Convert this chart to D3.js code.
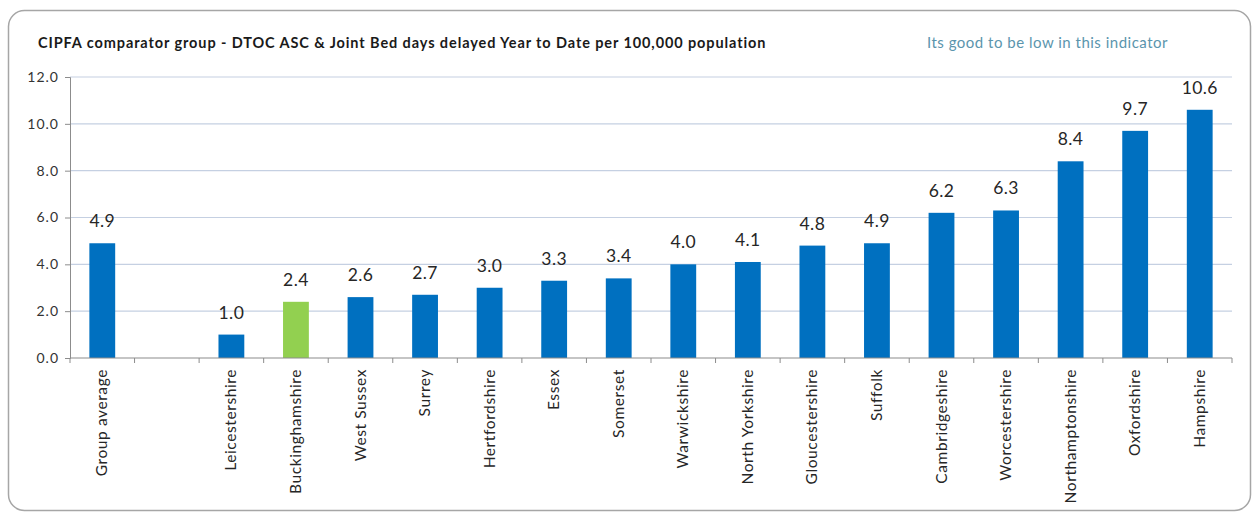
<!DOCTYPE html>
<html>
<head>
<meta charset="utf-8">
<script src="https://cdn.jsdelivr.net/npm/d3@7"></script>
<style>
  body { margin: 0; background: #fff; }
  svg { display: block; }
</style>
</head>
<body>
<div id="chart"></div>
<script>
// data
const categories = ['Group average', '', 'Leicestershire', 'Buckinghamshire', 'West Sussex', 'Surrey',
  'Hertfordshire', 'Essex', 'Somerset', 'Warwickshire', 'North Yorkshire', 'Gloucestershire',
  'Suffolk', 'Cambridgeshire', 'Worcestershire', 'Northamptonshire', 'Oxfordshire', 'Hampshire'];
const values = [4.9, null, 1.0, 2.4, 2.6, 2.7, 3.0, 3.3, 3.4, 4.0, 4.1, 4.8, 4.9, 6.2, 6.3, 8.4, 9.7, 10.6];
const highlight = 'Buckinghamshire';
const yTicks = [0, 2, 4, 6, 8, 10, 12];

const W = 1253, H = 514;
const margin = {left: 70, right: 21, top: 77, bottom: 156};
const font = "Lato, 'Open Sans', sans-serif";

const svg = d3.select('#chart').append('svg')
  .attr('width', W)
  .attr('height', H);

// outer rounded frame
svg.append('rect')
  .attr('x', 8.5).attr('y', 10.5)
  .attr('width', W - 11).attr('height', H - 14)
  .attr('rx', 16)
  .attr('fill', '#fff')
  .attr('stroke', '#a6a6a6')
  .attr('stroke-width', 1.5);

svg.append('text')
  .attr('x', 38).attr('y', 48)
  .attr('font-family', font)
  .attr('font-size', 14.5)
  .attr('font-weight', 700)
  .attr('letter-spacing', 0.9)
  .attr('fill', '#1a1a1a')
  .text('CIPFA comparator group - DTOC ASC & Joint Bed days delayed Year to Date per 100,000 population');

svg.append('text')
  .attr('x', 1168).attr('y', 48)
  .attr('text-anchor', 'end')
  .attr('font-family', font)
  .attr('font-size', 15)
  .attr('letter-spacing', 0.5)
  .attr('fill', '#5b95ad')
  .text('Its good to be low in this indicator');

const x = d3.scaleBand()
  .domain(d3.range(categories.length))
  .range([margin.left, W - margin.right])
  .paddingInner(0.6)
  .paddingOuter(0.3);

const y = d3.scaleLinear()
  .domain([0, 12])
  .range([H - margin.bottom, margin.top]);

const g = svg.append('g');

// gridlines
g.selectAll('.grid')
  .data(yTicks.slice(1))
  .enter()
  .append('line')
  .attr('class', 'grid')
  .attr('x1', margin.left).attr('x2', W - margin.right)
  .attr('y1', d => y(d)).attr('y2', d => y(d))
  .attr('stroke', '#c5d0e2')
  .attr('stroke-width', 1.2);

const barData = values.map((v, i) => ({v, i})).filter(d => d.v != null);

// bars
g.selectAll('.bar')
  .data(barData)
  .enter()
  .append('rect')
  .attr('class', 'bar')
  .attr('x', d => x(d.i))
  .attr('width', x.bandwidth())
  .attr('y', d => y(d.v))
  .attr('height', d => y(0) - y(d.v))
  .attr('fill', d => categories[d.i] === highlight ? '#92d050' : '#0070c0');

// value labels
g.selectAll('.val')
  .data(barData)
  .enter()
  .append('text')
  .attr('class', 'val')
  .attr('x', d => x(d.i) + x.bandwidth() / 2)
  .attr('y', d => y(d.v) - 16)
  .attr('text-anchor', 'middle')
  .attr('font-family', font)
  .attr('font-size', 17.5)
  .attr('letter-spacing', 0.4)
  .attr('fill', '#262626')
  .text(d => d.v.toFixed(1));

// y axis
const yAxis = d3.axisLeft(y)
  .tickValues(yTicks)
  .tickSize(5)
  .tickFormat(d => d.toFixed(1));

const gY = svg.append('g')
  .attr('transform', 'translate(' + margin.left + ',0)')
  .call(yAxis);
gY.select('.domain').attr('stroke', '#8c8c8c');
gY.selectAll('.tick line').attr('stroke', '#8c8c8c');
gY.selectAll('.tick text')
  .attr('font-family', font)
  .attr('font-size', 14)
  .attr('letter-spacing', 1)
  .attr('fill', '#333')
  .attr('dx', -3);

// x axis: ticks sit between the categories
const step = x.step();
const xEdges = d3.range(categories.length + 1).map(i => margin.left + i * step);

svg.append('line')
  .attr('x1', margin.left).attr('x2', W - margin.right)
  .attr('y1', y(0)).attr('y2', y(0))
  .attr('stroke', '#8c8c8c')
  .attr('stroke-width', 1.2);

svg.selectAll('.xtick')
  .data(xEdges)
  .enter()
  .append('line')
  .attr('class', 'xtick')
  .attr('x1', d => d).attr('x2', d => d)
  .attr('y1', y(0)).attr('y2', y(0) + 5)
  .attr('stroke', '#8c8c8c');

svg.selectAll('.xlabel')
  .data(categories)
  .enter()
  .append('text')
  .attr('class', 'xlabel')
  .attr('transform', (d, i) => 'translate(' + (x(i) + x.bandwidth() / 2 + 5) + ',' + (y(0) + 11) + ') rotate(-90)')
  .attr('text-anchor', 'end')
  .attr('font-family', font)
  .attr('font-size', 15.5)
  .attr('letter-spacing', 0.6)
  .attr('fill', '#262626')
  .text(d => d);
</script>
</body>
</html>
